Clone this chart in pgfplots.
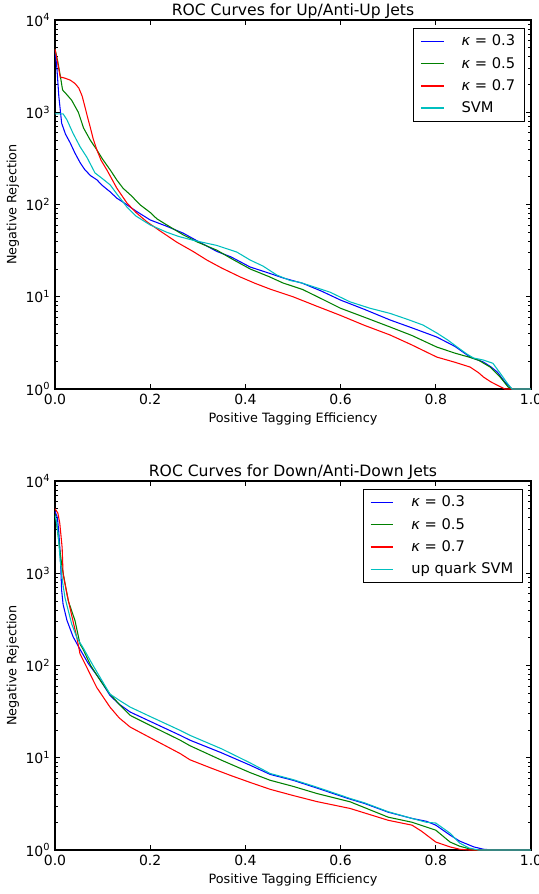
\documentclass[border=0pt]{standalone}
\usepackage{fontspec}
\setmainfont{DejaVu Sans}
\usepackage{pgfplots}
\pgfplotsset{compat=1.18}

\definecolor{mblue}{rgb}{0,0,1}
\definecolor{mgreen}{rgb}{0,0.5,0}
\definecolor{mred}{rgb}{1,0,0}
\definecolor{mcyan}{rgb}{0,0.75,0.75}

\pgfplotsset{
  rocax/.style={
    width=357pt, height=276.75pt, scale only axis,
    xmin=0, xmax=1, ymin=1, ymax=10000,
    xtick={0,0.2,0.4,0.6,0.8,1},
    xticklabels={0.0,0.2,0.4,0.6,0.8,1.0},
    ytick={1,10,100,1000,10000},
    yticklabels={10\textsuperscript{0},10\textsuperscript{1},10\textsuperscript{2},10\textsuperscript{3},10\textsuperscript{4}},
    tick align=inside,
    major tick length=3.5pt, minor tick length=2pt,
    every tick/.style={black, line width=0.6pt},
    axis line style={line width=0.8pt},
    tick label style={font=\fontsize{10.5}{12}\selectfont},
    every axis title/.style={at={(0.5,1)}, anchor=base, yshift=3.2pt,
      font=\fontsize{11.7}{14}\selectfont},
    every axis x label/.style={at={(0.5,0)}, anchor=base, yshift=-24.75pt,
      font=\fontsize{9.6}{11}\selectfont},
    every axis y label/.style={at={(0,0.5)}, rotate=90, anchor=base, yshift=28.9pt,
      font=\fontsize{9.6}{11}\selectfont},
    xlabel={Positive Tagging Efficiency},
    ylabel={Negative Rejection},
    legend cell align=left,
    legend style={font=\fontsize{11}{13}\selectfont,
      anchor=north east, row sep=3pt, inner xsep=5pt, inner ysep=3pt},
    legend image code/.code={\draw[#1, line width=1pt] (0pt,0pt) -- (17pt,0pt);},
    every axis plot/.append style={line width=0.8pt, no marks},
  },
}

\begin{document}
\begin{tikzpicture}
\begin{semilogyaxis}[rocax,
  title={ROC Curves for Up/Anti-Up Jets},
  legend style={at={(rel axis cs:0.987,0.978)}},
]
\addplot[draw=mblue] coordinates {
(0,4800) (0.004,3000) (0.008,1500) (0.014,760) (0.022,580) (0.032,465) (0.042,360)
(0.053,283) (0.063,237) (0.075,205) (0.088,185) (0.1,160) (0.116,137) (0.13,117)
(0.143,106) (0.17,85) (0.2,68) (0.235,58) (0.269,49) (0.3,40) (0.34,31) (0.37,27)
(0.41,21) (0.45,18) (0.479,16) (0.52,14) (0.56,11.5) (0.6,9.2) (0.65,7.3) (0.704,5.6)
(0.75,4.6) (0.802,3.66) (0.84,2.9) (0.872,2.22) (0.9,1.96) (0.915,1.75) (0.929,1.53)
(0.945,1.19) (0.96,1.0) (1,1)
};
\addlegendentry{\quad{\itshape κ} = 0.3}
\addplot[draw=mgreen] coordinates {
(0,4850) (0.006,3500) (0.011,2500) (0.016,1740) (0.025,1550) (0.035,1350) (0.049,1000)
(0.06,675) (0.074,500) (0.088,390) (0.1,310) (0.116,237) (0.13,184) (0.143,150)
(0.16,125) (0.179,99) (0.2,82) (0.214,70) (0.235,60) (0.269,47) (0.3,39) (0.34,32)
(0.37,26) (0.41,20) (0.45,16.5) (0.479,14.1) (0.52,12) (0.56,9.5) (0.6,7.5) (0.65,6)
(0.704,4.7) (0.75,3.8) (0.802,2.85) (0.84,2.45) (0.872,2.2) (0.89,2.05) (0.914,1.73)
(0.935,1.35) (0.952,1.05) (0.962,1) (1,1)
};
\addlegendentry{\quad{\itshape κ} = 0.5}
\addplot[draw=mred] coordinates {
(0,4850) (0.005,3600) (0.011,2410) (0.02,2350) (0.032,2230) (0.042,2050) (0.05,1830)
(0.057,1500) (0.063,1140) (0.068,900) (0.074,690) (0.08,520) (0.088,390) (0.097,300)
(0.109,237) (0.13,150) (0.151,104) (0.17,82) (0.193,65) (0.22,52) (0.256,39) (0.29,31)
(0.319,25) (0.35,20.5) (0.389,16.4) (0.42,14) (0.452,12.1) (0.5,10) (0.55,7.9)
(0.599,6.3) (0.65,4.9) (0.704,3.85) (0.75,3) (0.802,2.22) (0.84,1.95) (0.872,1.73)
(0.89,1.5) (0.9,1.35) (0.915,1.2) (0.929,1.1) (0.945,1.0) (1,1)
};
\addlegendentry{\quad{\itshape κ} = 0.7}
\addplot[draw=mcyan] coordinates {
(0,960) (0.017,960) (0.025,830) (0.038,590) (0.053,420) (0.067,325) (0.084,220)
(0.1,190) (0.116,163) (0.13,130) (0.151,94) (0.17,75) (0.2,60) (0.235,50) (0.26,45)
(0.29,41) (0.34,36) (0.382,30.5) (0.41,25) (0.437,21.5) (0.466,17.2) (0.494,15)
(0.515,14.3) (0.55,12.5) (0.578,11.2) (0.62,8.8) (0.662,7.5) (0.704,6.6) (0.74,5.7)
(0.773,4.94) (0.802,4.05) (0.825,3.4) (0.845,2.85) (0.865,2.4) (0.879,2.17) (0.9,2.06)
(0.92,1.9) (0.935,1.49) (0.95,1.16) (0.96,1.0) (1,1)
};
\addlegendentry{\quad SVM}
\end{semilogyaxis}

\begin{semilogyaxis}[rocax, at={(0,-345.75pt)},
  title={ROC Curves for Down/Anti-Down Jets},
  legend style={at={(rel axis cs:0.983,0.978)}},
]
\addplot[draw=mblue] coordinates {
(0,4700) (0.005,4000) (0.008,2800) (0.011,1600) (0.014,650) (0.017,460) (0.025,310)
(0.038,205) (0.0525,150) (0.07,105) (0.095,70) (0.1155,47.4) (0.135,38) (0.158,31.3)
(0.2,24.8) (0.263,17.5) (0.2836,15.5) (0.35,11.3) (0.41,8.3) (0.452,6.6) (0.5,5.7)
(0.55,4.7) (0.6,3.85) (0.62,3.56) (0.65,3.2) (0.7,2.57) (0.75,2.2) (0.78,2.05)
(0.8,1.86) (0.83,1.45) (0.85,1.25) (0.88,1.08) (0.9,1.02) (0.92,1.0) (1,1)
};
\addlegendentry{\quad{\itshape κ} = 0.3}
\addplot[draw=mgreen] coordinates {
(0,4400) (0.005,3000) (0.01,1800) (0.015,1150) (0.028,500) (0.042,307) (0.0525,171)
(0.059,150) (0.075,100) (0.095,69) (0.1155,49) (0.135,38) (0.158,28.8) (0.2,22.4)
(0.263,15.5) (0.2836,13.5) (0.35,9.4) (0.41,6.9) (0.452,5.7) (0.5,4.9) (0.55,4.1)
(0.62,3.33) (0.7,2.27) (0.75,2.0) (0.8,1.64) (0.83,1.22) (0.85,1.1) (0.88,1.0) (1,1)
};
\addlegendentry{\quad{\itshape κ} = 0.5}
\addplot[draw=mred] coordinates {
(0,5000) (0.006,4500) (0.01,3500) (0.015,1900) (0.017,980) (0.025,600) (0.035,350)
(0.046,200) (0.0525,134) (0.067,95) (0.0875,58) (0.1155,35.4) (0.135,27) (0.158,21.5)
(0.2,16.5) (0.263,11.1) (0.2836,9.5) (0.326,7.8) (0.37,6.4) (0.41,5.4) (0.452,4.55)
(0.5,3.9) (0.55,3.35) (0.62,2.82) (0.7,2.1) (0.75,1.86) (0.77,1.6) (0.8,1.22)
(0.83,1.08) (0.85,1.02) (0.87,1.0) (1,1)
};
\addlegendentry{\quad{\itshape κ} = 0.7}
\addplot[draw=mcyan] coordinates {
(0,4200) (0.003,3700) (0.007,2500) (0.011,1365) (0.016,800) (0.021,543) (0.035,283)
(0.046,200) (0.059,156) (0.08,100) (0.095,74) (0.1155,49) (0.135,42) (0.158,35.4)
(0.2,28) (0.263,19.8) (0.2836,17.5) (0.35,12.5) (0.41,8.8) (0.452,6.75) (0.5,5.8)
(0.55,4.8) (0.62,3.62) (0.65,3.25) (0.7,2.6) (0.75,2.2) (0.78,2.0) (0.8,1.96)
(0.83,1.52) (0.85,1.19) (0.87,1.05) (0.89,1.0) (1,1)
};
\addlegendentry{\quad up quark SVM}
\end{semilogyaxis}
\pgfresetboundingbox
\path[use as bounding box] (-41.25pt,-378.75pt) rectangle (363pt,291.75pt);
\end{tikzpicture}
\end{document}
